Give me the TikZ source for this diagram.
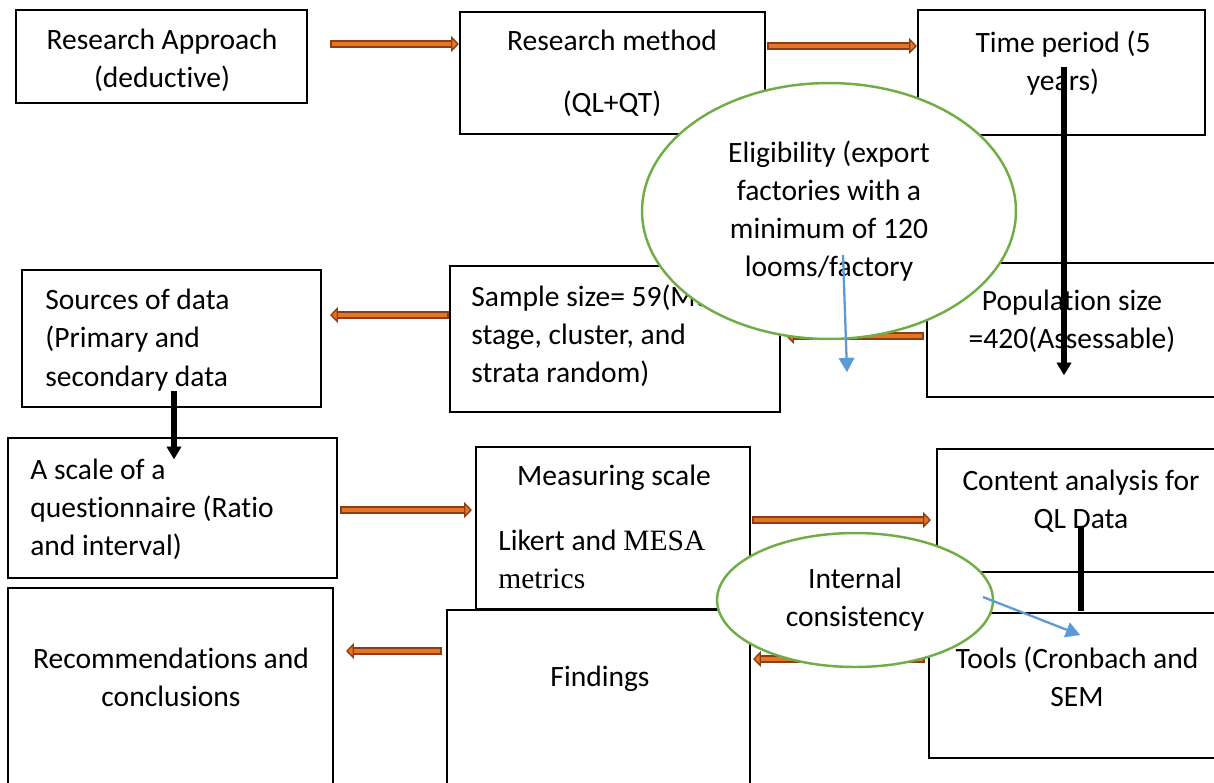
\documentclass[tikz,border=0pt]{standalone}
\usepackage{fontspec}
\setmainfont{Carlito}[Ligatures=NoCommon]
\newfontfamily\timesfont{Liberation Serif}
\usetikzlibrary{shapes.geometric, arrows.meta}
\definecolor{orangefill}{RGB}{229,118,38}
\definecolor{orangeedge}{RGB}{140,62,18}
\definecolor{ovalgreen}{RGB}{112,173,71}
\definecolor{linkblue}{RGB}{91,155,213}
\tikzstyle{box} = [rectangle, 
draw=black, 
line width=1.2pt, 
inner sep=0pt]
\tikzstyle{txt} = [align=center, 
inner sep=0pt, 
font=\fontsize{16.8pt}{21.7pt}\selectfont]
\tikzstyle{ltxt} = [txt, align=left, anchor=west]
\tikzstyle{oval} = [ellipse, 
draw=ovalgreen, 
line width=1.4pt, 
fill=white, 
inner sep=0pt, 
align=center, 
font=\fontsize{16.8pt}{21.7pt}\selectfont]
\tikzstyle{oarrow} = [draw=orangeedge, line width=4pt,
-{Triangle[length=4.5pt, width=9pt, line width=0.8pt, fill=orangefill]},
postaction={draw=orangefill, line width=1.8pt, -, shorten >=4.5pt, shorten <=1.1pt}]
\tikzstyle{barrow} = [draw=black, line width=3.4pt, -{Triangle[length=7pt, width=8.5pt, line width=0.1pt]}]
\tikzstyle{larrow} = [draw=linkblue, line width=1.3pt, -{Triangle[length=8pt, width=9pt, line width=0.1pt]}]

\begin{document}
\begin{tikzpicture}[x=0.02cm, y=-0.02cm]
  \useasboundingbox (0,0) rectangle (1214,782);
  \clip (0,0) rectangle (1214,782);

  % the boxes
  \node (approach) [box, minimum width=5.82cm, minimum height=1.86cm] at (161.5,56.5) {};
  \node (method) [box, minimum width=6.10cm, minimum height=2.44cm] at (612.5,73) {};
  \node (period) [box, minimum width=5.74cm, minimum height=2.50cm] at (1061.5,72.5) {};
  \node (sources) [box, minimum width=5.98cm, minimum height=2.74cm] at (171.5,338.5) {};
  \node (sample) [box, minimum width=6.60cm, minimum height=2.92cm] at (615,339) {};
  \node (population) [box, minimum width=5.96cm, minimum height=2.68cm] at (1076,330) {};
  \node (qscale) [box, minimum width=6.58cm, minimum height=2.80cm] at (172.5,508) {};
  \node (measuring) [box, minimum width=5.48cm, minimum height=3.24cm] at (613,528) {};
  \node (content) [box, minimum width=5.76cm, minimum height=3.28cm] at (1081,531) {};
  \node (tools) [box, minimum width=5.92cm, minimum height=3.72cm] at (1077,665) {};
  \node (findings) [box, minimum width=6.06cm, minimum height=3.80cm] at (598.5,705) {};
  \node (recommend) [box, minimum width=6.50cm, minimum height=4.24cm] at (170.5,694) {};

  % their texts
  \node (approach-t) [txt] at (162,60) {Research Approach\\(deductive)};
  \node (method-t) [txt] at (612,73) {Research method\\[13.7pt](QL+QT)};
  \node (period-t) [txt] at (1063,63) {Time period (5\\years)};
  \node (sources-t) [ltxt] at (45,340) {Sources of data\\(Primary and\\secondary data};
  \node (sample-t) [ltxt] at (471,336) {Sample size= 59(Multi\\stage, cluster, and\\strata random)};
  \node (population-t) [txt] at (1072,321) {Population size\\=420(Assessable)};
  \node (qscale-t) [ltxt] at (30,509) {A scale of a\\questionnaire (Ratio\\and interval)};
  \node (measuring-t) [txt] at (614,478) {Measuring scale};
  \node (likert-t) [ltxt] at (498,559) {Likert and {\timesfont MESA}\\{\timesfont metrics}};
  \node (content-t) [txt] at (1081,501) {Content analysis for\\QL Data};
  \node (tools-t) [txt] at (1077,677) {Tools (Cronbach and\\SEM};
  \node (findings-t) [txt] at (600,679) {Findings};
  \node (recommend-t) [txt] at (171,677) {Recommendations and\\conclusions};

  % block arrows between the steps
  \draw [oarrow] ([shift={(22,-12.5)}]approach.east) -- ([shift={(0,-29)}]method.west);
  \draw [oarrow] ([shift={(1,-27)}]method.east) -- ([shift={(0,-26.5)}]period.west);
  \draw [oarrow] ([shift={(0,-24)}]sample.west) -- ([shift={(8,-23.5)}]sources.east);
  \draw [oarrow] ([shift={(-2,6)}]population.west) -- ([shift={(5,-3)}]sample.east);
  \draw [oarrow] ([shift={(2,2)}]qscale.east) -- ([shift={(-3,-18)}]measuring.west);
  \draw [oarrow] ([shift={(1,-8)}]measuring.east) -- ([shift={(-5,-11)}]content.west);
  \draw [oarrow] ([shift={(-4,-54)}]findings.west) -- ([shift={(12,-43)}]recommend.east);
  \draw [oarrow] ([shift={(-3,-6)}]tools.west) -- ([shift={(2,-46)}]findings.east);

  % black arrows
  \draw [barrow] ([shift={(2.5,-5.5)}]period.center) -- ([shift={(-12,45)}]population.center);
  \draw [barrow] ([shift={(2.5,-17)}]sources.south) -- ([shift={(1.5,22)}]qscale.north);
  \draw [draw=black, line width=3.4pt] ([yshift=2]content.center) -- ([yshift=2]content.south);

  % the two ovals
  \node (eligibility) [oval, minimum width=7.48cm, minimum height=5.12cm] at (829,211)
    {Eligibility (export\\factories with a\\minimum of 120\\looms/factory};
  \node (consistency) [oval, minimum width=5.52cm, minimum height=2.68cm] at (855,600)
    {Internal\\consistency};

  \draw [larrow] ([shift={(14,44)}]eligibility.center) -- ([shift={(66,33)}]sample.east);
  \draw [larrow] ([shift={(128,-3)}]consistency.center) -- ([shift={(3,-30)}]tools.center);

\end{tikzpicture}
\end{document}
